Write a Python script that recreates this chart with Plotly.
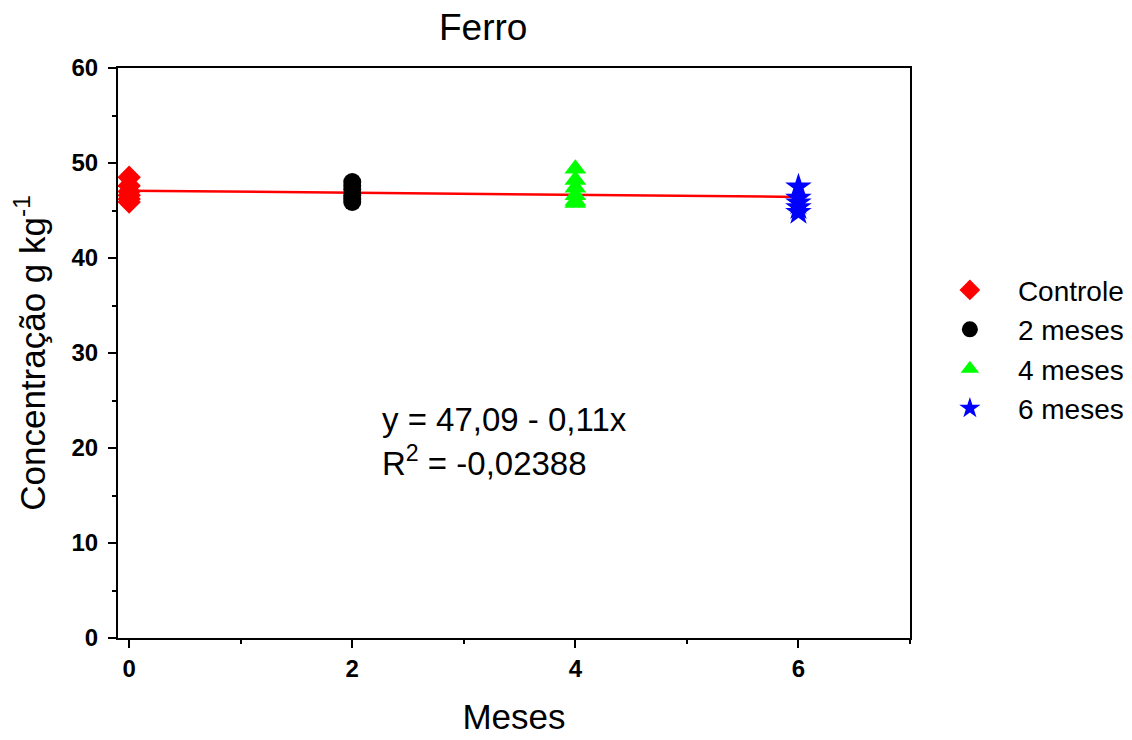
import plotly.graph_objects as go

# Data
x_controle = [0, 0, 0, 0, 0, 0]
y_controle = [48.5, 47.6, 47.0, 46.6, 46.2, 45.9]
x_2m = [2, 2, 2, 2, 2, 2]
y_2m = [48.0, 47.6, 47.2, 46.6, 46.2, 45.9]
x_4m = [4, 4, 4, 4, 4, 4]
y_4m = [49.4, 48.2, 47.4, 46.6, 46.0, 45.8]
x_6m = [6, 6, 6, 6, 6]
y_6m = [47.5, 46.3, 45.8, 45.3, 44.8]
fit_intercept = 47.09
fit_slope = -0.11
fit_x = [0, 6]
fit_y = [fit_intercept + fit_slope * v for v in fit_x]
series_names = ["Controle", "2 meses", "4 meses", "6 meses"]

FONT = "Liberation Sans, Arial, sans-serif"

fig = go.Figure()
fig.add_trace(go.Scatter(x=fit_x, y=fit_y, mode="lines",
                         line=dict(color="#ff0000", width=2.5), showlegend=False))
fig.add_trace(go.Scatter(x=x_controle, y=y_controle, mode="markers", name=series_names[0],
                         legendgroup="a",
                         marker=dict(symbol="diamond", size=18, color="#ff0000")))
fig.add_trace(go.Scatter(x=x_2m, y=y_2m, mode="markers", name=series_names[1],
                         legendgroup="b",
                         marker=dict(symbol="circle", size=18, color="#000000")))
fig.add_trace(go.Scatter(x=x_4m, y=y_4m, mode="markers", name=series_names[2],
                         legendgroup="c",
                         marker=dict(symbol="triangle-up", size=19, color="#00ff00")))
fig.add_trace(go.Scatter(x=x_6m, y=y_6m, mode="markers", name=series_names[3],
                         legendgroup="d",
                         marker=dict(symbol="star", size=20, color="#0000ff")))

axis_common = dict(showline=True, linecolor="black", linewidth=2, mirror=True,
                   showgrid=False, zeroline=False, ticks="outside", ticklen=8,
                   tickwidth=2, tickcolor="black",
                   tickfont=dict(family=FONT, size=24, color="black", weight="bold"))

fig.update_layout(
    width=1132, height=740,
    paper_bgcolor="white", plot_bgcolor="white",
    margin=dict(l=110, r=230, t=60, b=110, autoexpand=False),
    font=dict(family=FONT, color="black"),
    xaxis=dict(range=[-0.1, 7.0], tickvals=[0, 2, 4, 6],
               minor=dict(tickvals=[1, 3, 5, 7], ticklen=4, tickwidth=2, tickcolor="black", ticks="outside"),
               title=dict(text="Meses", font=dict(family=FONT, size=35), standoff=24),
               **axis_common),
    yaxis=dict(range=[0, 60], tickvals=[0, 10, 20, 30, 40, 50, 60],
               ticklabelstandoff=5,
               minor=dict(tickvals=[5, 15, 25, 35, 45, 55], ticklen=4, tickwidth=2, tickcolor="black", ticks="outside"),
               title=dict(text="Concentração g kg<sup>-1</sup>", font=dict(family=FONT, size=35), standoff=18),
               **axis_common),
    legend=dict(x=1.015, y=0.654, xanchor="left", yanchor="top",
                font=dict(family=FONT, size=28, color="black"),
                tracegroupgap=0, itemsizing="trace", itemwidth=86,
                bgcolor="rgba(0,0,0,0)"),
    showlegend=True,
)

fig.add_annotation(text="Ferro", xref="paper", yref="paper", x=0.461, y=1.0,
                   yshift=41, xanchor="center", yanchor="middle", showarrow=False,
                   font=dict(family=FONT, size=37, color="black"))
fig.add_annotation(text="y = 47,09 - 0,11x", xref="x", yref="y", x=2.25, y=22.95,
                   xanchor="left", yanchor="middle", showarrow=False,
                   font=dict(family=FONT, size=33, color="black"))
fig.add_annotation(text="R<sup>2</sup> = -0,02388", xref="x", yref="y", x=2.25, y=18.6,
                   xanchor="left", yanchor="middle", showarrow=False,
                   font=dict(family=FONT, size=33, color="black"))

fig.write_html("out.html")
